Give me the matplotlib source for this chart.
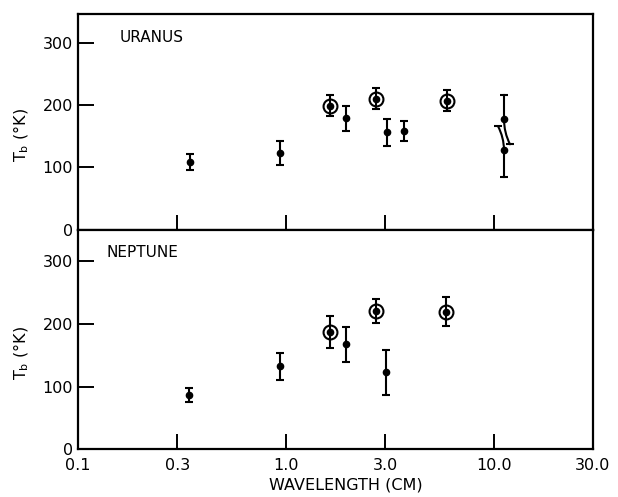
import matplotlib
matplotlib.use("Agg")
import matplotlib.pyplot as plt
from matplotlib.transforms import offset_copy
import numpy as np

# ---------------- data ----------------
# Uranus: plain points
ura_wl = [0.345, 0.94, 1.94, 3.07, 3.71]
ura_tb = [109, 123, 179, 156, 158]
ura_err = [13, 19, 20, 21, 16]
# Uranus: circled points
ura_c_wl = [1.63, 2.71, 5.94]
ura_c_tb = [199, 210, 207]
ura_c_err = [17, 17, 17]
# Uranus: two overlapping measurements at the same wavelength
ura_pair_wl = [11.2, 11.2]
ura_pair_tb = [177, 128]
ura_pair_hi = [216, 166]
ura_pair_lo = [137, 85]

# Neptune: plain points
nep_wl = [0.342, 0.936, 1.94, 3.02]
nep_tb = [87, 132, 167, 123]
nep_err = [11, 22, 28, 36]
# Neptune: circled points
nep_c_wl = [1.63, 2.70, 5.86]
nep_c_tb = [187, 220, 219]
nep_c_err = [25, 19, 23]

xticks = [0.1, 0.3, 1.0, 3.0, 10.0, 30.0]
xticklabels = ["0.1", "0.3", "1.0", "3.0", "10.0", "30.0"]
yticks = [0, 100, 200, 300]

# ---------------- figure ----------------
plt.rcParams['font.family'] = ['DejaVu Sans']
fig = plt.figure(figsize=(6.18, 4.97), dpi=100)
ax1 = fig.add_axes([0.1262, 0.5378, 0.8333, 0.434])
ax2 = fig.add_axes([0.1262, 0.096, 0.8333, 0.4419])

lw = 1.5
ebkw = dict(fmt='o', color='black', ms=4.5, elinewidth=lw, capsize=3, capthick=lw)


def circled(ax, x, y, e):
    ax.errorbar(x, y, yerr=e, **ebkw)
    ax.plot(x, y, 'o', ms=10, mfc='none', mec='black', mew=1.5, ls='none')


# Uranus
ax1.errorbar(ura_wl, ura_tb, yerr=ura_err, **ebkw)
circled(ax1, ura_c_wl, ura_c_tb, ura_c_err)
# overlapping pair with curved whiskers
ax1.plot(ura_pair_wl, ura_pair_tb, 'o', color='black', ms=4.5)
tr_r = offset_copy(ax1.transData, fig=fig, x=6, y=0, units='dots')
tr_l = offset_copy(ax1.transData, fig=fig, x=-6, y=0, units='dots')
# upper point: straight top whisker, curved lower whisker to the right
ax1.plot([ura_pair_wl[0]] * 2, [ura_pair_tb[0], ura_pair_hi[0]], color='black', lw=lw)
ax1.plot([ura_pair_wl[0]], [ura_pair_hi[0]], marker='_', ms=6, mew=lw, color='black')
ax1.annotate('', xy=(ura_pair_wl[0], ura_pair_lo[0]), xycoords=tr_r,
             xytext=(ura_pair_wl[0], ura_pair_tb[0]), textcoords='data',
             arrowprops=dict(arrowstyle='-', connectionstyle='arc3,rad=0.12',
                             lw=lw, color='black', shrinkA=0, shrinkB=0))
ax1.plot([ura_pair_wl[0]], [ura_pair_lo[0]], marker='_', ms=6, mew=lw,
         color='black', transform=tr_r)
# lower point: straight bottom whisker, curved upper whisker to the left
ax1.plot([ura_pair_wl[1]] * 2, [ura_pair_tb[1], ura_pair_lo[1]], color='black', lw=lw)
ax1.plot([ura_pair_wl[1]], [ura_pair_lo[1]], marker='_', ms=6, mew=lw, color='black')
ax1.annotate('', xy=(ura_pair_wl[1], ura_pair_hi[1]), xycoords=tr_l,
             xytext=(ura_pair_wl[1], ura_pair_tb[1]), textcoords='data',
             arrowprops=dict(arrowstyle='-', connectionstyle='arc3,rad=0.12',
                             lw=lw, color='black', shrinkA=0, shrinkB=0))
ax1.plot([ura_pair_wl[1]], [ura_pair_hi[1]], marker='_', ms=6, mew=lw,
         color='black', transform=tr_l)

# Neptune
ax2.errorbar(nep_wl, nep_tb, yerr=nep_err, **ebkw)
circled(ax2, nep_c_wl, nep_c_tb, nep_c_err)

for ax, top in ((ax1, 346), (ax2, 350)):
    ax.set_xscale('log')
    ax.set_xlim(0.1, 30.0)
    ax.set_ylim(0, top)
    ax.set_xticks(xticks)
    ax.minorticks_off()
    ax.set_yticks(yticks)
    ax.tick_params(axis='both', direction='in', width=1.4, labelsize=11.5)
    ax.tick_params(axis='y', length=11.5, pad=3.5)
    ax.tick_params(axis='x', length=11, pad=6)
    for s in ax.spines.values():
        s.set_linewidth(1.6)
    ax.set_ylabel(r'T$_\mathregular{b}$ (°K)', fontsize=11.5)
    ax.yaxis.set_label_coords(-0.092, 0.44)

ax1.set_xticklabels([])
ax2.set_xticklabels(xticklabels)
ax2.set_xlabel('WAVELENGTH (CM)', fontsize=11.5)
ax2.xaxis.set_label_coords(0.52, -0.13)

ax1.text(0.08, 0.889, 'URANUS', transform=ax1.transAxes, fontsize=11,
         va='center', ha='left')
ax2.text(0.056, 0.895, 'NEPTUNE', transform=ax2.transAxes, fontsize=11,
         va='center', ha='left')

fig.savefig('out.png', dpi=100)
